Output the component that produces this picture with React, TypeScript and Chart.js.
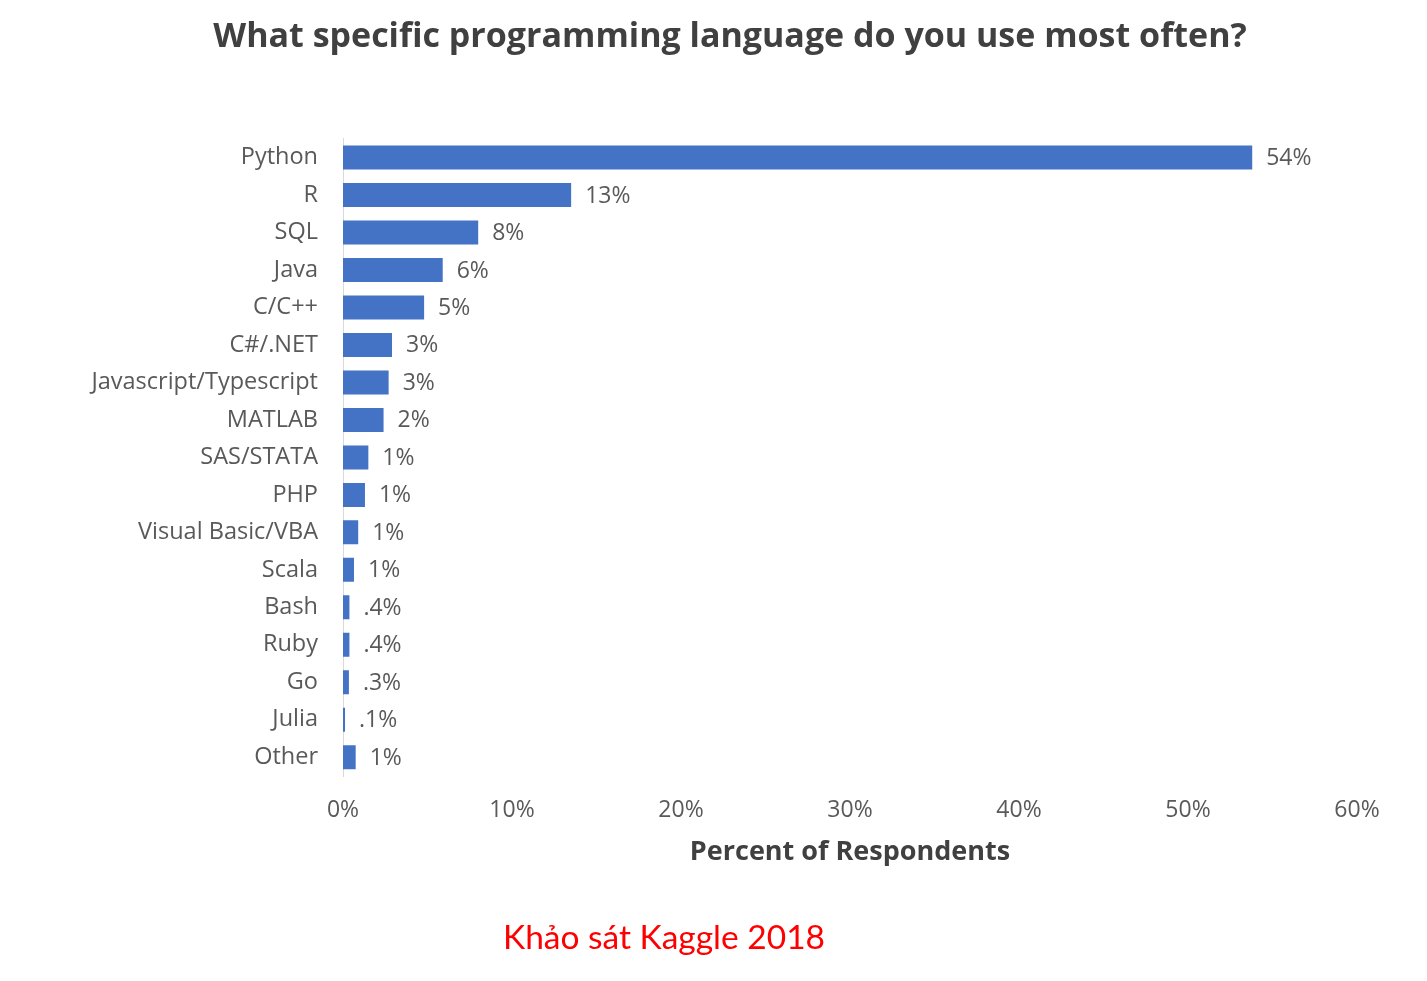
import React, { useEffect, useRef } from "react";
import { Chart, registerables } from "chart.js";

Chart.register(...registerables);

const categories = [
  "Python", "R", "SQL", "Java", "C/C++", "C#/.NET", "Javascript/Typescript",
  "MATLAB", "SAS/STATA", "PHP", "Visual Basic/VBA", "Scala", "Bash", "Ruby",
  "Go", "Julia", "Other",
];
const values = [53.8, 13.5, 8.0, 5.9, 4.8, 2.9, 2.7, 2.4, 1.5, 1.3, 0.9, 0.65, 0.38, 0.38, 0.35, 0.12, 0.75];
const valueLabels = ["54%", "13%", "8%", "6%", "5%", "3%", "3%", "2%", "1%", "1%", "1%", "1%", ".4%", ".4%", ".3%", ".1%", "1%"];
const xTicks = [0, 10, 20, 30, 40, 50, 60];

const FONT = "'Open Sans', sans-serif";

const dataLabelPlugin = {
  id: "dataLabels",
  afterLayout(chart: any) {
    // widen the label clip area of the y axis so long labels are not cut
    const y = chart.scales.y;
    if (y) y.left = 0;
  },
  afterDatasetsDraw(chart: any) {
    const ctx = chart.ctx;
    const meta = chart.getDatasetMeta(0);
    ctx.save();
    ctx.fillStyle = "#595959";
    ctx.font = `23px ${FONT}`;
    ctx.textAlign = "left";
    ctx.textBaseline = "middle";
    meta.data.forEach((bar: any, i: number) => {
      ctx.fillText(valueLabels[i], bar.x + 14, bar.y + 1);
    });
    ctx.restore();
  },
};

export default function App() {
  const ref = useRef<HTMLCanvasElement | null>(null);
  useEffect(() => {
    if (!ref.current) return;
    const chart = new Chart(ref.current, {
      type: "bar",
      data: {
        labels: categories,
        datasets: [
          {
            data: values,
            backgroundColor: "#4472C4",
            borderWidth: 0,
            categoryPercentage: 0.64,
            barPercentage: 1,
          },
        ],
      },
      options: {
        indexAxis: "y",
        animation: false,
        responsive: false,
        maintainAspectRatio: false,
        layout: { padding: { left: 95, right: 62, top: 0, bottom: 104 } },
        plugins: {
          legend: { display: false },
          tooltip: { enabled: false },
          title: {
            display: true,
            text: "What specific programming language do you use most often?",
            color: "#404040",
            font: { family: FONT, size: 34, weight: "bold" },
            padding: { top: 9, bottom: 81 },
          },
        },
        scales: {
          x: {
            min: 0,
            max: 60,
            afterBuildTicks: (scale: any) => {
              scale.ticks = xTicks.map((v) => ({ value: v }));
            },
            grid: { display: false, drawTicks: false },
            border: { display: false },
            ticks: {
              color: "#595959",
              font: { family: FONT, size: 23 },
              padding: 21,
              maxRotation: 0,
              callback: (v: any) => `${v}%`,
            },
            title: {
              display: true,
              text: "Percent of Respondents",
              color: "#404040",
              font: { family: FONT, size: 27, weight: "bold" },
              padding: { top: -9, bottom: 0 },
            },
          },
          y: {
            grid: { display: false, drawTicks: false },
            border: { display: true, color: "#d9d9d9", width: 1 },
            afterFit: (scale: any) => {
              scale.width = 240;
            },
            ticks: {
              color: "#595959",
              font: { family: FONT, size: 23.5 },
              padding: 25,
              autoSkip: false,
            },
          },
        },
      },
      plugins: [dataLabelPlugin],
    });
    return () => chart.destroy();
  }, []);

  return (
    <div style={{ position: "relative", width: 1411, height: 965 }}>
      <canvas ref={ref} width={1411} height={965} style={{ display: "block" }} />
      <div
        style={{
          position: "absolute",
          left: 0,
          width: 1312,
          top: 908,
          textAlign: "center",
          color: "#ff0000",
          fontFamily: "Lato, 'Open Sans', sans-serif",
          fontSize: 33.5,
          lineHeight: "40px",
        }}
      >
        Khảo sát Kaggle 2018
      </div>
    </div>
  );
}
